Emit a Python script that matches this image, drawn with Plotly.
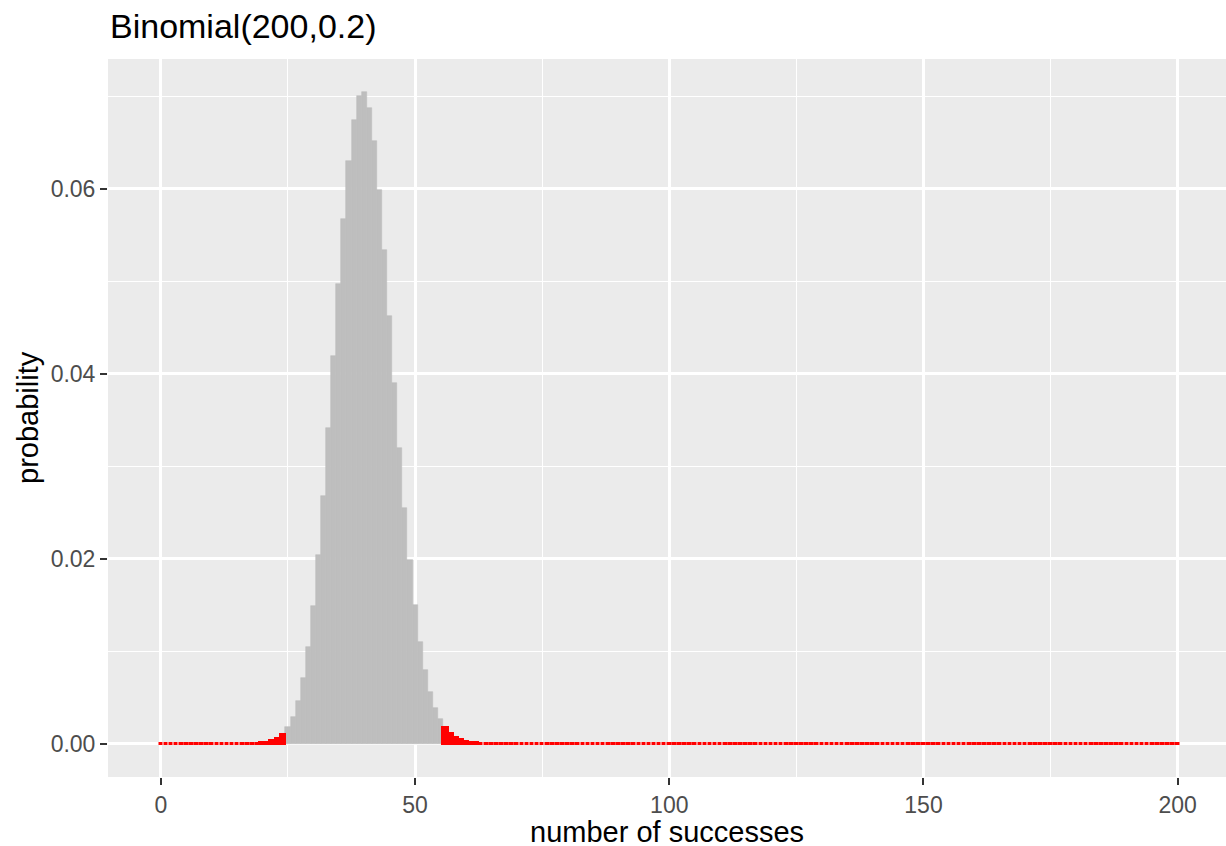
import plotly.graph_objects as go

# number of successes (categories)
successes = list(range(201))

# probabilities (values indistinguishable from zero are 0)
probability = [
    0, 0, 0, 0, 0, 0, 0, 0, 0, 0,
    0, 0, 0, 0, 0, 0, 0, 0.000006, 0.000014, 0.00003,
    0.000066, 0.00014, 0.00029, 0.00055, 0.00102, 0.0018, 0.0029, 0.0046, 0.0071, 0.0105,
    0.0149, 0.0204, 0.0268, 0.0342, 0.0419, 0.0497, 0.0568, 0.0630, 0.0675, 0.0700,
    0.0705, 0.0688, 0.0652, 0.0599, 0.0534, 0.0463, 0.0390, 0.0320, 0.0255, 0.0199,
    0.0150, 0.0110, 0.0080, 0.0056, 0.0039, 0.0027, 0.0017, 0.0011, 0.00068, 0.00041,
    0.00024, 0.00014, 0.00008, 0.000045, 0.000025, 0.000013, 0.000007, 0, 0, 0,
] + [0] * 131

# acceptance region (grey); outside is red
region_low = 25
region_high = 55

x_ticks = [0, 50, 100, 150, 200]
x_minor = [25, 75, 125, 175]
y_ticks = [0, 0.02, 0.04, 0.06]
y_ticklabels = ["0.00", "0.02", "0.04", "0.06"]
y_minor = [0.01, 0.03, 0.05, 0.07]

title_text = "Binomial(200,0.2)"
x_title = "number of successes"
y_title = "probability"

FONT = "Liberation Sans, Arial, Helvetica, sans-serif"

inside_x = [k for k in successes if region_low <= k <= region_high]
inside_y = [probability[k] for k in inside_x]
outside_x = [k for k in successes if not (region_low <= k <= region_high)]
outside_y = [probability[k] for k in outside_x]

fig = go.Figure()
fig.add_trace(go.Bar(x=inside_x, y=inside_y, width=1.0,
                     marker=dict(color="#BEBEBE", line=dict(color="#BEBEBE", width=0.6)),
                     showlegend=False, hoverinfo="x+y"))
fig.add_trace(go.Bar(x=outside_x, y=outside_y, width=0.9,
                     marker=dict(color="#FF0000", line=dict(color="#FF0000", width=3)),
                     showlegend=False, hoverinfo="x+y"))

W, H = 1226, 846
ml, mr, mt, mb = 108, 0, 59, 69
pw = W - ml - mr
ph = H - mt - mb

axis_common = dict(
    showline=False, zeroline=False,
    showgrid=True, gridcolor="white", gridwidth=2.6,
    ticks="outside", ticklen=7, tickwidth=2.4, tickcolor="#333333",
    tickfont=dict(family=FONT, size=23, color="#4D4D4D"),
)

fig.update_layout(
    width=W, height=H,
    margin=dict(l=ml, r=mr, t=mt, b=mb, autoexpand=False),
    paper_bgcolor="white", plot_bgcolor="#EBEBEB",
    barmode="overlay", bargap=0,
    xaxis=dict(range=[-10.4, 209.5], tickmode="array", tickvals=x_ticks,
               minor=dict(tickmode="array", tickvals=x_minor, showgrid=True,
                          gridcolor="white", gridwidth=1.3, ticks=""),
               **axis_common),
    yaxis=dict(range=[-0.00357, 0.07405], tickmode="array", tickvals=y_ticks,
               ticktext=y_ticklabels,
               minor=dict(tickmode="array", tickvals=y_minor, showgrid=True,
                          gridcolor="white", gridwidth=1.3, ticks=""),
               **axis_common),
    annotations=[
        dict(text=title_text, xref="paper", yref="paper", x=0, y=1 + (mt - 26) / ph,
             xanchor="left", yanchor="middle", showarrow=False,
             font=dict(family=FONT, size=34, color="black")),
        dict(text=x_title, xref="paper", yref="paper", x=0.5, y=-(832 - (H - mb)) / ph,
             xanchor="center", yanchor="middle", showarrow=False, borderpad=0,
             font=dict(family=FONT, size=29, color="black")),
        dict(text=y_title, xref="paper", yref="paper", x=(28 - ml) / pw, y=0.5,
             xanchor="center", yanchor="middle", showarrow=False, textangle=-90,
             font=dict(family=FONT, size=29, color="black")),
    ],
)

fig.write_html(
    "out.html",
    config={"displayModeBar": False},
    post_script="document.body.style.margin='0';document.body.style.overflow='hidden';",
)
